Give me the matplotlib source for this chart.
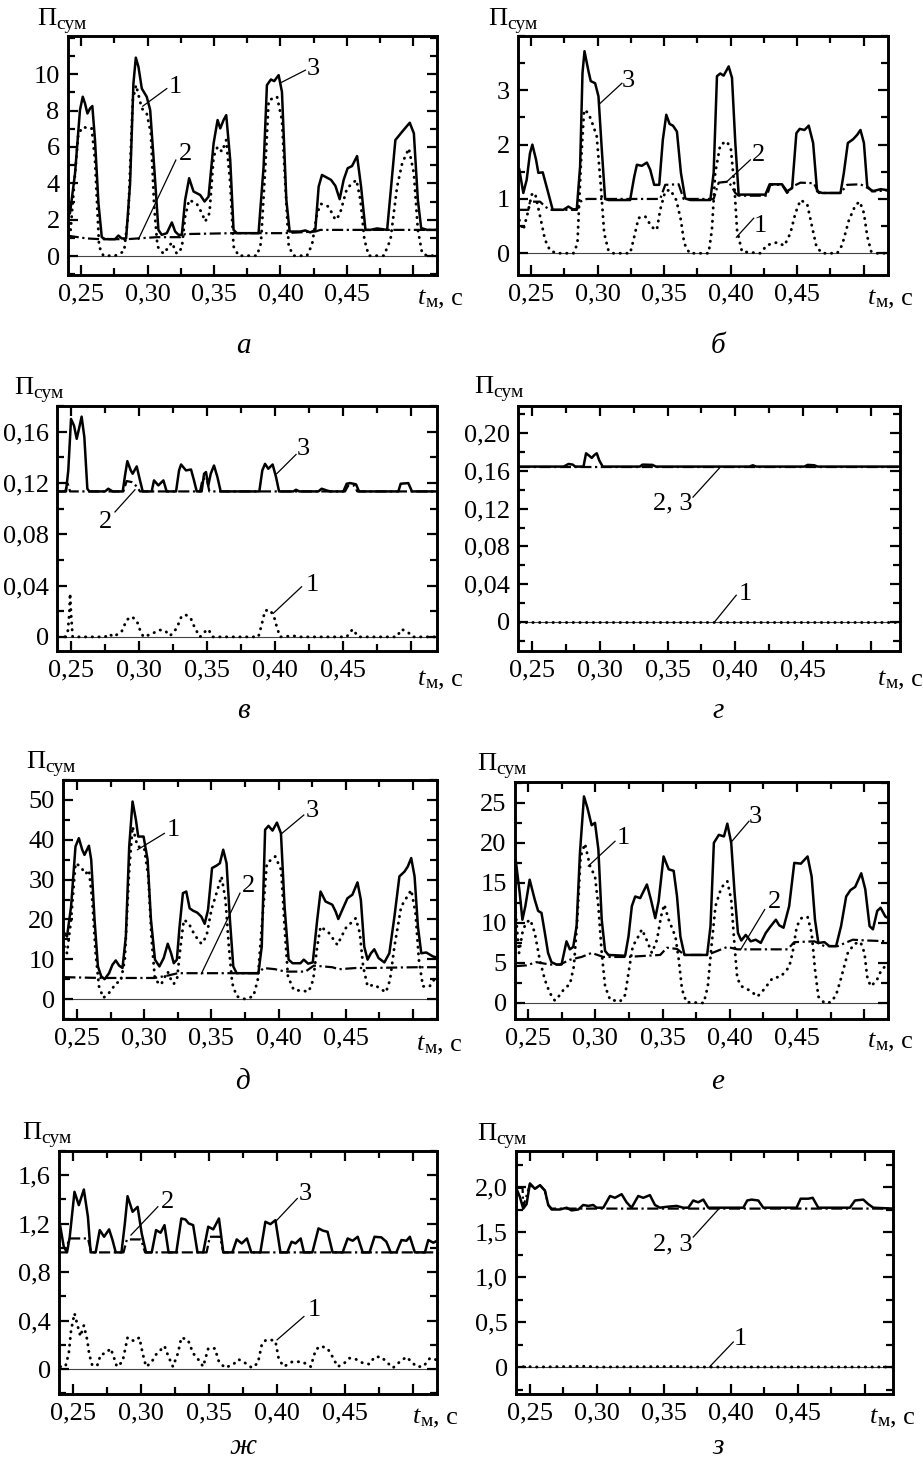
import matplotlib
matplotlib.use("Agg")
import matplotlib.pyplot as plt
from matplotlib.ticker import FixedLocator, FixedFormatter, MultipleLocator

plt.rcParams['font.family'] = ['Liberation Serif', 'DejaVu Serif']

W, H = 923, 1466

# ---------------------------------------------------------------- data
# Each curve is a list of (t_m, P_sum) points.
# 1 - dotted, 2 - dash-dot, 3 - solid (total)

# panel а
A1 = [(0.2400, 2.18), (0.2422, 1.44), (0.2447, 3.82), (0.2480, 6.75), (0.2518, 7.11), (0.2548, 7.02),
      (0.2580, 7.02), (0.2605, 5.28), (0.2636, 0.53), (0.2668, 0.02), (0.2756, 0.02), (0.2824, 0.26),
      (0.2856, 2.36), (0.2889, 8.57), (0.2914, 9.40), (0.2957, 8.12), (0.2994, 7.84), (0.3025, 6.75),
      (0.3050, 2.72), (0.3075, 0.53), (0.3120, 0.13), (0.3153, 0.44), (0.3183, 0.75), (0.3220, 0.13),
      (0.3258, 0.44), (0.3283, 2.18), (0.3313, 3.09), (0.3371, 2.87), (0.3409, 2.36), (0.3434, 1.90),
      (0.3466, 2.36), (0.3497, 5.47), (0.3527, 6.01), (0.3560, 5.74), (0.3592, 6.38), (0.3622, 4.00),
      (0.3647, 0.53), (0.3685, 0.02), (0.3823, 0.02), (0.3853, 0.71), (0.3886, 4.92), (0.3911, 8.57),
      (0.3974, 8.76), (0.4011, 7.48), (0.4037, 3.82), (0.4062, 0.53), (0.4099, 0.02), (0.4199, 0.02),
      (0.4237, 0.62), (0.4275, 2.36), (0.4305, 2.87), (0.4362, 2.72), (0.4413, 1.99), (0.4445, 2.27),
      (0.4500, 3.73), (0.4571, 4.19), (0.4601, 3.09), (0.4631, 0.90), (0.4664, 0.02), (0.4777, 0.02),
      (0.4827, 0.90), (0.4877, 3.82), (0.4915, 5.10), (0.4965, 5.92), (0.5003, 4.55), (0.5033, 1.44),
      (0.5065, 0.16), (0.5103, 0.02), (0.5178, 0.02)]
A2 = [(0.2400, 1.12), (0.2543, 0.97), (0.2643, 0.93), (0.2844, 0.93), (0.3070, 1.04), (0.3245, 1.04),
      (0.3283, 1.21), (0.3647, 1.26), (0.4024, 1.26), (0.4262, 1.35), (0.4300, 1.44), (0.5178, 1.44)]
A3 = [(0.2400, 2.20), (0.2417, 2.36), (0.2455, 4.55), (0.2492, 8.03), (0.2513, 8.76), (0.2530, 8.39),
      (0.2548, 7.84), (0.2568, 8.12), (0.2585, 8.25), (0.2605, 6.38), (0.2631, 2.91), (0.2656, 1.04),
      (0.2681, 0.93), (0.2756, 0.93), (0.2781, 1.13), (0.2806, 0.97), (0.2839, 0.97), (0.2869, 4.00),
      (0.2894, 9.49), (0.2912, 10.91), (0.2932, 10.40), (0.2957, 9.21), (0.2994, 8.76), (0.3020, 8.03),
      (0.3050, 4.92), (0.3082, 1.44), (0.3107, 1.17), (0.3145, 1.26), (0.3183, 1.85), (0.3208, 1.35),
      (0.3233, 1.17), (0.3258, 1.17), (0.3283, 3.09), (0.3313, 4.28), (0.3346, 3.55), (0.3396, 3.36),
      (0.3429, 3.00), (0.3459, 3.27), (0.3497, 6.20), (0.3527, 7.48), (0.3547, 7.02), (0.3572, 7.48),
      (0.3592, 7.75), (0.3622, 5.28), (0.3647, 1.44), (0.3672, 1.26), (0.3835, 1.26), (0.3873, 4.92),
      (0.3898, 9.40), (0.3928, 9.71), (0.3953, 9.62), (0.3986, 9.95), (0.4011, 9.03), (0.4044, 3.09),
      (0.4069, 1.35), (0.4149, 1.35), (0.4187, 1.41), (0.4224, 1.30), (0.4262, 1.44), (0.4287, 3.82),
      (0.4312, 4.46), (0.4345, 4.33), (0.4380, 4.19), (0.4413, 3.86), (0.4445, 3.13), (0.4475, 4.19),
      (0.4505, 4.83), (0.4538, 4.95), (0.4576, 5.50), (0.4606, 3.82), (0.4639, 1.44), (0.4676, 1.44),
      (0.4726, 1.52), (0.4802, 1.44), (0.4832, 3.82), (0.4864, 6.38), (0.4915, 6.84), (0.4972, 7.33),
      (0.5003, 6.75), (0.5033, 3.09), (0.5058, 1.54), (0.5103, 1.44), (0.5178, 1.44)]

# panel б
B1 = [(0.2412, 0.61), (0.2442, 0.43), (0.2475, 0.74), (0.2505, 1.08), (0.2530, 1.11), (0.2568, 0.68),
      (0.2605, 0.25), (0.2643, 0.05), (0.2693, 0.00), (0.2819, 0.00), (0.2849, 0.18), (0.2874, 1.60),
      (0.2899, 2.64), (0.2932, 2.58), (0.2969, 2.34), (0.2994, 2.15), (0.3025, 1.23), (0.3050, 0.37),
      (0.3082, 0.05), (0.3120, 0.00), (0.3245, 0.00), (0.3271, 0.25), (0.3308, 0.65), (0.3358, 0.68),
      (0.3409, 0.48), (0.3446, 0.43), (0.3471, 0.80), (0.3509, 1.14), (0.3547, 1.17), (0.3592, 0.98),
      (0.3627, 0.61), (0.3652, 0.18), (0.3692, 0.00), (0.3835, 0.00), (0.3860, 0.43), (0.3885, 1.48),
      (0.3923, 2.00), (0.3973, 2.06), (0.4003, 1.91), (0.4029, 1.23), (0.4049, 0.43), (0.4086, 0.03),
      (0.4224, 0.00), (0.4274, 0.15), (0.4350, 0.20), (0.4405, 0.14), (0.4450, 0.37), (0.4488, 0.74),
      (0.4526, 0.98), (0.4576, 0.91), (0.4613, 0.49), (0.4646, 0.12), (0.4689, 0.00), (0.4802, 0.00),
      (0.4839, 0.15), (0.4890, 0.61), (0.4940, 0.89), (0.4972, 0.95), (0.5003, 0.74), (0.5028, 0.31),
      (0.5058, 0.03), (0.5103, 0.00), (0.5186, 0.00)]
B2 = [(0.2412, 0.80), (0.2480, 0.80), (0.2492, 0.95), (0.2568, 0.95), (0.2605, 0.86), (0.2643, 0.80),
      (0.2844, 0.80), (0.2869, 0.95), (0.2919, 1.00), (0.3471, 1.00), (0.3509, 1.26), (0.3610, 1.27),
      (0.3647, 1.00), (0.3873, 1.00), (0.3911, 1.30), (0.3986, 1.32), (0.4036, 1.11), (0.4061, 1.06),
      (0.4274, 1.06), (0.4299, 1.26), (0.4387, 1.26), (0.4425, 1.11), (0.4475, 1.24), (0.4526, 1.30),
      (0.4626, 1.29), (0.4664, 1.11), (0.4827, 1.11), (0.4877, 1.26), (0.4977, 1.27), (0.5033, 1.20),
      (0.5078, 1.14), (0.5186, 1.16)]
B3 = [(0.2412, 1.54), (0.2442, 1.11), (0.2467, 1.35), (0.2492, 1.84), (0.2510, 2.00), (0.2538, 1.72),
      (0.2555, 1.48), (0.2588, 1.49), (0.2623, 1.17), (0.2663, 0.80), (0.2743, 0.80), (0.2781, 0.86),
      (0.2814, 0.81), (0.2844, 0.81), (0.2869, 1.60), (0.2887, 3.32), (0.2902, 3.72), (0.2932, 3.35),
      (0.2949, 3.17), (0.2982, 3.13), (0.3007, 2.89), (0.3032, 1.91), (0.3057, 1.00), (0.3082, 0.98),
      (0.3245, 0.98), (0.3276, 1.41), (0.3296, 1.63), (0.3333, 1.61), (0.3371, 1.67), (0.3396, 1.54),
      (0.3426, 1.26), (0.3464, 1.26), (0.3491, 2.09), (0.3517, 2.55), (0.3542, 2.38), (0.3567, 2.35),
      (0.3597, 2.24), (0.3627, 1.48), (0.3659, 1.01), (0.3697, 0.98), (0.3848, 0.98), (0.3873, 1.48),
      (0.3898, 3.26), (0.3923, 3.31), (0.3948, 3.27), (0.3986, 3.44), (0.4011, 3.23), (0.4036, 2.03),
      (0.4061, 1.08), (0.4262, 1.08), (0.4294, 1.27), (0.4387, 1.27), (0.4425, 1.14), (0.4463, 1.20),
      (0.4495, 2.21), (0.4520, 2.29), (0.4556, 2.27), (0.4588, 2.35), (0.4621, 2.03), (0.4651, 1.14),
      (0.4689, 1.11), (0.4827, 1.11), (0.4852, 1.48), (0.4882, 2.03), (0.4922, 2.10), (0.4952, 2.18),
      (0.4977, 2.27), (0.5003, 2.03), (0.5028, 1.23), (0.5065, 1.14), (0.5128, 1.18), (0.5186, 1.16)]

# panel в
V1 = [(0.2456, 0.0), (0.2476, 0.0041), (0.2488, 0.0184), (0.2493, 0.0339), (0.2500, 0.0184),
      (0.2512, 0.0), (0.2750, 0.0), (0.2782, 0.0023), (0.2811, 0.0), (0.2872, 0.0041), (0.2909, 0.0132),
      (0.2946, 0.0158), (0.2983, 0.0127), (0.3007, 0.0054), (0.3032, 0.0), (0.3093, 0.0023),
      (0.3149, 0.0054), (0.3191, 0.0049), (0.3228, 0.0008), (0.3277, 0.0067), (0.3313, 0.0163),
      (0.3345, 0.0171), (0.3380, 0.0145), (0.3411, 0.0067), (0.3448, 0.0), (0.3485, 0.0041),
      (0.3509, 0.0060), (0.3541, 0.0), (0.3877, 0.0), (0.3901, 0.0093), (0.3926, 0.0205),
      (0.3963, 0.0210), (0.3992, 0.0158), (0.4012, 0.0080), (0.4036, 0.0), (0.4134, 0.0008),
      (0.4183, 0.0), (0.4526, 0.0), (0.4570, 0.0060), (0.4612, 0.0), (0.4894, 0.0), (0.4930, 0.0060),
      (0.4979, 0.0034), (0.5011, 0.0), (0.5188, 0.0)]
V2 = [(0.2407, 0.1134), (0.2456, 0.1134), (0.2476, 0.1194), (0.2493, 0.1134), (0.2885, 0.1134),
      (0.2909, 0.1215), (0.2946, 0.1207), (0.2983, 0.1173), (0.3007, 0.1134), (0.3448, 0.1134),
      (0.3468, 0.1233), (0.3497, 0.1233), (0.3517, 0.1134), (0.4514, 0.1134), (0.4538, 0.1181),
      (0.4580, 0.1181), (0.4604, 0.1134), (0.5188, 0.1134)]
V3 = [(0.2407, 0.1134), (0.2463, 0.1134), (0.2480, 0.1298), (0.2500, 0.1699), (0.2522, 0.1647),
      (0.2542, 0.1544), (0.2561, 0.1634), (0.2578, 0.1717), (0.2598, 0.1557), (0.2620, 0.1155),
      (0.2635, 0.1134), (0.2750, 0.1134), (0.2774, 0.1155), (0.2806, 0.1134), (0.2880, 0.1134),
      (0.2897, 0.1259), (0.2914, 0.1370), (0.2939, 0.1298), (0.2953, 0.1272), (0.2983, 0.1329),
      (0.3007, 0.1220), (0.3027, 0.1134), (0.3093, 0.1134), (0.3110, 0.1220), (0.3142, 0.1181),
      (0.3179, 0.1220), (0.3203, 0.1134), (0.3272, 0.1134), (0.3294, 0.1298), (0.3309, 0.1344),
      (0.3345, 0.1298), (0.3382, 0.1305), (0.3404, 0.1220), (0.3424, 0.1134), (0.3460, 0.1134),
      (0.3478, 0.1272), (0.3492, 0.1285), (0.3509, 0.1181), (0.3527, 0.1272), (0.3551, 0.1336),
      (0.3576, 0.1246), (0.3600, 0.1134), (0.3884, 0.1134), (0.3906, 0.1298), (0.3926, 0.1349),
      (0.3950, 0.1311), (0.3982, 0.1344), (0.4007, 0.1246), (0.4029, 0.1134), (0.4134, 0.1134),
      (0.4154, 0.1147), (0.4178, 0.1134), (0.4318, 0.1134), (0.4342, 0.1155), (0.4379, 0.1142),
      (0.4404, 0.1134), (0.4502, 0.1134), (0.4526, 0.1194), (0.4551, 0.1199), (0.4575, 0.1194),
      (0.4595, 0.1189), (0.4617, 0.1134), (0.4906, 0.1134), (0.4923, 0.1194), (0.4979, 0.1199),
      (0.5006, 0.1134), (0.5188, 0.1134)]

# panel г
G1 = [(0.2402, 0.0), (0.5207, 0.0)]
G2 = [(0.2402, 0.1643), (0.5207, 0.1643)]
G3 = [(0.2402, 0.1647), (0.2733, 0.1647), (0.2770, 0.1675), (0.2801, 0.1668), (0.2819, 0.1647),
      (0.2880, 0.1647), (0.2899, 0.1788), (0.2921, 0.1764), (0.2941, 0.1739), (0.2961, 0.1771),
      (0.2978, 0.1788), (0.2997, 0.1711), (0.3022, 0.1647), (0.3296, 0.1647), (0.3316, 0.1668),
      (0.3389, 0.1665), (0.3414, 0.1647), (0.4105, 0.1647), (0.4129, 0.1661), (0.4154, 0.1647),
      (0.4509, 0.1647), (0.4534, 0.1665), (0.4583, 0.1661), (0.4607, 0.1647), (0.5207, 0.1647)]

# panel д
D1 = [(0.2405, 13.2), (0.2425, 11.5), (0.2455, 19.9), (0.2488, 34.1), (0.2525, 33.3), (0.2563, 31.4),
      (0.2588, 32.4), (0.2613, 24.9), (0.2638, 11.5), (0.2663, 3.2), (0.2695, 0.3), (0.2725, 1.1),
      (0.2755, 2.2), (0.2788, 4.0), (0.2825, 4.4), (0.2855, 9.9), (0.2888, 32.4), (0.2913, 43.3),
      (0.2950, 38.3), (0.3000, 37.9), (0.3030, 30.8), (0.3055, 14.9), (0.3080, 4.8), (0.3125, 3.6),
      (0.3155, 5.7), (0.3175, 6.9), (0.3200, 4.8), (0.3220, 3.8), (0.3245, 5.3), (0.3270, 13.2),
      (0.3295, 19.9), (0.3330, 19.1), (0.3375, 16.1), (0.3425, 13.9), (0.3463, 15.7), (0.3500, 22.4),
      (0.3538, 26.6), (0.3575, 30.8), (0.3605, 24.9), (0.3630, 13.2), (0.3655, 4.0), (0.3688, 0.7),
      (0.3750, 0.0), (0.3813, 0.7), (0.3845, 4.8), (0.3875, 18.2), (0.3913, 34.1), (0.3975, 35.8),
      (0.4020, 32.4), (0.4045, 18.2), (0.4070, 5.7), (0.4113, 2.3), (0.4225, 1.9), (0.4258, 4.8),
      (0.4288, 13.2), (0.4313, 18.2), (0.4375, 16.6), (0.4438, 13.6), (0.4500, 17.8), (0.4575, 20.3),
      (0.4605, 16.6), (0.4630, 8.2), (0.4663, 3.2), (0.4713, 3.6), (0.4763, 2.5), (0.4800, 1.7),
      (0.4830, 4.8), (0.4863, 13.2), (0.4913, 23.2), (0.4988, 27.4), (0.5020, 21.6), (0.5045, 9.9),
      (0.5075, 3.2), (0.5125, 3.2), (0.5175, 5.7), (0.5195, 6.1)]
D2 = [(0.2405, 5.5), (0.2675, 5.3), (0.3075, 5.3), (0.3175, 5.9), (0.3250, 6.5), (0.3850, 6.5),
      (0.3888, 7.8), (0.3975, 7.5), (0.4050, 6.9), (0.4200, 6.9), (0.4263, 8.4), (0.4400, 8.0),
      (0.4450, 7.5), (0.4575, 7.8), (0.4675, 7.8), (0.5025, 8.0), (0.5195, 8.0)]
D3 = [(0.2405, 16.6), (0.2425, 15.7), (0.2455, 23.2), (0.2488, 38.3), (0.2513, 40.4), (0.2538, 37.5),
      (0.2555, 36.2), (0.2588, 38.5), (0.2605, 35.0), (0.2630, 19.9), (0.2655, 8.2), (0.2680, 5.7),
      (0.2705, 5.0), (0.2738, 6.5), (0.2763, 8.6), (0.2788, 9.7), (0.2813, 8.4), (0.2838, 7.8),
      (0.2863, 15.7), (0.2888, 38.3), (0.2913, 49.6), (0.2938, 45.0), (0.2955, 40.8), (0.2995, 40.8),
      (0.3025, 35.0), (0.3050, 19.9), (0.3080, 9.9), (0.3113, 8.2), (0.3145, 10.3), (0.3175, 13.9),
      (0.3200, 11.5), (0.3220, 9.0), (0.3243, 9.9), (0.3263, 18.2), (0.3288, 26.6), (0.3313, 27.0),
      (0.3338, 22.8), (0.3363, 22.2), (0.3395, 21.7), (0.3425, 20.7), (0.3450, 18.9), (0.3475, 22.4),
      (0.3505, 32.9), (0.3538, 33.5), (0.3563, 34.1), (0.3588, 37.5), (0.3613, 34.1), (0.3638, 19.9),
      (0.3663, 8.2), (0.3688, 6.5), (0.3850, 6.5), (0.3875, 13.2), (0.3900, 42.5), (0.3925, 43.5),
      (0.3955, 42.3), (0.3988, 44.3), (0.4018, 41.6), (0.4045, 23.2), (0.4075, 9.9), (0.4105, 9.0),
      (0.4163, 9.0), (0.4188, 9.9), (0.4220, 8.9), (0.4255, 9.2), (0.4288, 19.9), (0.4313, 27.0),
      (0.4350, 24.5), (0.4400, 23.7), (0.4425, 22.0), (0.4445, 20.1), (0.4480, 22.8), (0.4513, 25.3),
      (0.4550, 26.2), (0.4588, 29.3), (0.4613, 24.9), (0.4638, 13.2), (0.4663, 9.9), (0.4688, 11.5),
      (0.4713, 12.5), (0.4745, 10.3), (0.4788, 9.2), (0.4825, 11.5), (0.4863, 20.7), (0.4900, 30.8),
      (0.4938, 32.0), (0.4963, 33.3), (0.4988, 35.4), (0.5013, 30.8), (0.5038, 18.2), (0.5063, 11.5),
      (0.5100, 11.7), (0.5150, 10.7), (0.5195, 10.3)]

# panel е
E1 = [(0.2408, 11.25), (0.2433, 6.25), (0.2458, 8.75), (0.2483, 10.0), (0.2517, 10.4), (0.2550, 8.75),
      (0.2587, 5.4), (0.2625, 2.9), (0.2662, 1.25), (0.2699, 0.3), (0.2737, 1.0), (0.2774, 1.9),
      (0.2811, 2.3), (0.2841, 4.6), (0.2866, 10.4), (0.2891, 18.3), (0.2923, 19.9), (0.2961, 17.1),
      (0.2998, 15.8), (0.3023, 12.1), (0.3048, 6.25), (0.3073, 2.1), (0.3110, 0.4), (0.3185, 0.2),
      (0.3222, 1.0), (0.3247, 3.75), (0.3279, 7.1), (0.3314, 8.1), (0.3347, 9.2), (0.3384, 7.8),
      (0.3421, 6.25), (0.3459, 7.9), (0.3489, 10.8), (0.3513, 12.3), (0.3546, 10.4), (0.3596, 8.3),
      (0.3621, 5.4), (0.3645, 1.7), (0.3678, 0.1), (0.3807, 0.0), (0.3837, 2.1), (0.3862, 6.7),
      (0.3894, 12.1), (0.3937, 14.4), (0.3982, 15.2), (0.4011, 12.9), (0.4036, 7.1), (0.4056, 3.1),
      (0.4086, 2.1), (0.4156, 1.5), (0.4206, 0.8), (0.4255, 1.7), (0.4318, 3.1), (0.4380, 3.3),
      (0.4442, 4.5), (0.4467, 6.25), (0.4499, 9.6), (0.4534, 10.6), (0.4579, 10.75), (0.4609, 8.75),
      (0.4634, 4.2), (0.4659, 0.8), (0.4704, 0.0), (0.4753, 0.1), (0.4791, 1.0), (0.4828, 3.1),
      (0.4878, 6.25), (0.4928, 7.4), (0.4973, 7.6), (0.5002, 6.25), (0.5022, 3.3), (0.5047, 2.1),
      (0.5090, 2.7), (0.5127, 4.1), (0.5164, 4.7), (0.5189, 4.5)]
E2 = [(0.2408, 4.6), (0.2488, 4.7), (0.2562, 5.1), (0.2662, 4.8), (0.2737, 4.8), (0.2811, 5.4),
      (0.2898, 5.75), (0.2973, 6.25), (0.3060, 5.75), (0.3234, 5.75), (0.3483, 6.0), (0.3533, 6.9),
      (0.3608, 6.75), (0.3663, 6.0), (0.3832, 6.0), (0.3907, 6.5), (0.3982, 7.0), (0.4056, 6.7),
      (0.4430, 6.7), (0.4480, 7.6), (0.4629, 7.7), (0.4704, 7.1), (0.4803, 7.1), (0.4915, 7.9),
      (0.5027, 7.8), (0.5189, 7.7)]
E3 = [(0.2408, 17.9), (0.2438, 13.75), (0.2458, 10.4), (0.2480, 12.1), (0.2512, 15.4), (0.2550, 12.9),
      (0.2575, 11.5), (0.2600, 11.25), (0.2625, 8.75), (0.2649, 6.25), (0.2674, 5.1), (0.2712, 4.8),
      (0.2749, 4.8), (0.2786, 7.7), (0.2811, 6.7), (0.2836, 7.0), (0.2861, 9.6), (0.2886, 18.75),
      (0.2916, 25.8), (0.2941, 24.4), (0.2973, 22.2), (0.2998, 22.5), (0.3023, 19.2), (0.3048, 10.4),
      (0.3073, 6.5), (0.3098, 6.0), (0.3222, 5.9), (0.3247, 8.3), (0.3272, 12.1), (0.3297, 13.3),
      (0.3334, 13.1), (0.3384, 14.8), (0.3414, 12.9), (0.3446, 10.6), (0.3471, 12.7), (0.3508, 18.3),
      (0.3546, 16.7), (0.3583, 16.5), (0.3608, 13.3), (0.3633, 8.3), (0.3663, 6.0), (0.3832, 6.0),
      (0.3857, 9.6), (0.3882, 20.0), (0.3919, 21.0), (0.3957, 20.8), (0.3982, 22.4), (0.4011, 20.0),
      (0.4036, 13.75), (0.4061, 8.75), (0.4086, 7.8), (0.4119, 8.5), (0.4156, 7.7), (0.4193, 7.9),
      (0.4231, 7.5), (0.4268, 8.75), (0.4305, 9.6), (0.4343, 10.4), (0.4368, 9.7), (0.4400, 9.4),
      (0.4442, 12.1), (0.4480, 17.5), (0.4529, 17.4), (0.4579, 18.3), (0.4609, 15.8), (0.4634, 10.4),
      (0.4659, 7.5), (0.4704, 7.6), (0.4741, 7.1), (0.4791, 7.1), (0.4828, 9.6), (0.4866, 13.3),
      (0.4898, 14.1), (0.4933, 14.5), (0.4978, 16.2), (0.5008, 14.2), (0.5040, 9.6), (0.5065, 9.2),
      (0.5097, 11.5), (0.5122, 11.9), (0.5157, 10.8), (0.5189, 10.5)]

# panel ж
Z1 = [(0.2406, 0.02), (0.2443, 0.02), (0.2468, 0.13), (0.2485, 0.32), (0.2510, 0.46), (0.2535, 0.35),
      (0.2554, 0.27), (0.2579, 0.36), (0.2604, 0.24), (0.2619, 0.12), (0.2641, 0.03), (0.2678, 0.03),
      (0.2703, 0.12), (0.2740, 0.13), (0.2777, 0.17), (0.2802, 0.09), (0.2822, 0.02), (0.2864, 0.06),
      (0.2901, 0.26), (0.2950, 0.23), (0.2988, 0.26), (0.3012, 0.13), (0.3037, 0.02), (0.3074, 0.05),
      (0.3111, 0.12), (0.3173, 0.19), (0.3203, 0.10), (0.3235, 0.02), (0.3272, 0.13), (0.3297, 0.26),
      (0.3346, 0.24), (0.3384, 0.13), (0.3421, 0.08), (0.3458, 0.02), (0.3495, 0.17), (0.3544, 0.17),
      (0.3574, 0.06), (0.3619, 0.01), (0.3681, 0.04), (0.3718, 0.08), (0.3767, 0.05), (0.3817, 0.01),
      (0.3861, 0.05), (0.3891, 0.21), (0.3921, 0.24), (0.3960, 0.24), (0.3990, 0.23), (0.4015, 0.08),
      (0.4052, 0.02), (0.4114, 0.06), (0.4188, 0.06), (0.4250, 0.02), (0.4287, 0.16), (0.4324, 0.19),
      (0.4374, 0.17), (0.4411, 0.10), (0.4448, 0.02), (0.4490, 0.04), (0.4534, 0.09), (0.4584, 0.08),
      (0.4633, 0.05), (0.4683, 0.04), (0.4720, 0.10), (0.4770, 0.10), (0.4807, 0.06), (0.4856, 0.01),
      (0.4906, 0.06), (0.4955, 0.10), (0.4992, 0.06), (0.5029, 0.02), (0.5079, 0.02), (0.5128, 0.09),
      (0.5165, 0.08), (0.5190, 0.07)]
Z2 = [(0.2406, 0.963), (0.2450, 0.963), (0.2468, 1.078), (0.2609, 1.078), (0.2634, 0.963),
      (0.2871, 0.963), (0.2896, 1.070), (0.3000, 1.070), (0.3030, 0.963), (0.3483, 0.963),
      (0.3507, 1.092), (0.3582, 1.092), (0.3606, 0.963), (0.5190, 0.963)]
Z3 = [(0.2406, 1.175), (0.2431, 1.010), (0.2455, 0.963), (0.2475, 1.090), (0.2510, 1.463),
      (0.2542, 1.353), (0.2579, 1.482), (0.2609, 1.257), (0.2629, 0.963), (0.2666, 0.963),
      (0.2696, 1.147), (0.2728, 1.092), (0.2765, 1.153), (0.2790, 1.065), (0.2814, 0.963),
      (0.2856, 0.963), (0.2881, 1.202), (0.2901, 1.427), (0.2938, 1.298), (0.2975, 1.339),
      (0.3005, 1.120), (0.3037, 0.963), (0.3079, 0.963), (0.3111, 1.147), (0.3144, 1.125),
      (0.3173, 1.188), (0.3203, 0.963), (0.3260, 0.963), (0.3297, 1.243), (0.3327, 1.235),
      (0.3351, 1.202), (0.3384, 1.188), (0.3416, 0.963), (0.3458, 0.963), (0.3495, 1.175),
      (0.3532, 1.153), (0.3574, 1.243), (0.3606, 0.963), (0.3673, 0.963), (0.3705, 1.070),
      (0.3742, 1.037), (0.3780, 1.078), (0.3812, 0.963), (0.3879, 0.963), (0.3916, 1.216),
      (0.3953, 1.196), (0.3990, 1.229), (0.4027, 0.963), (0.4077, 0.963), (0.4109, 1.051),
      (0.4138, 1.037), (0.4176, 1.078), (0.4200, 0.963), (0.4262, 0.963), (0.4307, 1.161),
      (0.4341, 1.142), (0.4374, 1.133), (0.4411, 0.963), (0.4485, 0.963), (0.4522, 1.078),
      (0.4559, 1.059), (0.4596, 1.092), (0.4633, 0.963), (0.4683, 0.963), (0.4720, 1.092),
      (0.4770, 1.087), (0.4807, 1.051), (0.4839, 0.963), (0.4881, 0.963), (0.4918, 1.065),
      (0.4955, 1.059), (0.4980, 1.092), (0.5017, 0.963), (0.5091, 0.963), (0.5116, 1.065),
      (0.5153, 1.043), (0.5190, 1.065)]

# panel з
S1 = [(0.2400, 0.0), (0.2480, 0.005), (0.2550, 0.0), (0.2920, 0.008), (0.3000, 0.0), (0.3600, 0.005),
      (0.3700, 0.0), (0.5214, 0.0)]
S2 = [(0.2400, 1.99), (0.2445, 1.99), (0.2450, 1.78), (0.2500, 2.03), (0.2537, 1.98), (0.2575, 2.02),
      (0.2612, 1.96), (0.2637, 1.80), (0.2662, 1.76), (0.5214, 1.76)]
S3 = [(0.2400, 1.98), (0.2425, 1.89), (0.2450, 1.76), (0.2475, 1.81), (0.2500, 2.04), (0.2537, 1.98),
      (0.2575, 2.02), (0.2612, 1.96), (0.2637, 1.80), (0.2662, 1.75), (0.2724, 1.75), (0.2774, 1.77),
      (0.2811, 1.74), (0.2861, 1.75), (0.2898, 1.80), (0.2936, 1.79), (0.2973, 1.80), (0.2998, 1.77),
      (0.3048, 1.77), (0.3098, 1.90), (0.3135, 1.88), (0.3185, 1.92), (0.3222, 1.83), (0.3259, 1.77),
      (0.3309, 1.90), (0.3347, 1.88), (0.3396, 1.91), (0.3434, 1.80), (0.3471, 1.77), (0.3521, 1.78),
      (0.3596, 1.79), (0.3645, 1.77), (0.3683, 1.77), (0.3720, 1.85), (0.3757, 1.83), (0.3795, 1.86),
      (0.3832, 1.77), (0.4094, 1.77), (0.4123, 1.85), (0.4156, 1.86), (0.4206, 1.85), (0.4243, 1.77),
      (0.4492, 1.77), (0.4522, 1.87), (0.4579, 1.87), (0.4612, 1.88), (0.4654, 1.77), (0.4890, 1.77),
      (0.4928, 1.85), (0.4990, 1.86), (0.5027, 1.81), (0.5065, 1.77), (0.5214, 1.76)]

X_TICKS = [0.25, 0.30, 0.35, 0.40, 0.45, 0.50]
X_LABELS = ['0,25', '0,30', '0,35', '0,40', '0,45', '']

# ---------------------------------------------------------------- layout
# box = (left, top, right, bottom) in pixels; ylab = (x, baseline) of "Псум";
# xlab = (x, baseline) of "tм, с"; letter = (x centre, baseline)
PANELS = [
    dict(box=(68, 36, 437, 275), xlim=(0.2402, 0.5177), ylim=(-1.04, 12.1),
         yt=[0, 2, 4, 6, 8, 10], yl=['0', '2', '4', '6', '8', '10'], ymin=1,
         curves=(A1, A2, A3), letter='а', lpos=(243, 353), ylab=(37, 25), xlab=(418, 304),
         notes=[('1', 0.2964, 8.24, 0.3145, 9.21, 0.3208, 9.27),
                ('2', 0.2932, 0.93, 0.3213, 5.28, 0.3283, 5.61),
                ('3', 0.3999, 9.52, 0.4187, 10.22, 0.4250, 10.31)]),
    dict(box=(518, 36, 888, 275), xlim=(0.2402, 0.5184), ylim=(-0.4, 4.0),
         yt=[0, 1, 2, 3], yl=['0', '1', '2', '3'], ymin=0.5,
         curves=(B1, B2, B3), letter='б', lpos=(718, 353), ylab=(488, 25), xlab=(868, 304),
         notes=[('3', 0.3015, 2.75, 0.3183, 3.13, 0.3233, 3.18),
                ('2', 0.3973, 1.32, 0.4149, 1.72, 0.4207, 1.81),
                ('1', 0.4044, 0.295, 0.4174, 0.645, 0.4224, 0.50)]),
    dict(box=(57, 406, 437, 651), xlim=(0.2397, 0.5190), ylim=(-0.011, 0.18),
         yt=[0, 0.04, 0.08, 0.12, 0.16], yl=['0', '0,04', '0,08', '0,12', '0,16'], ymin=0.02,
         curves=(V1, V2, V3), letter='в', lpos=(243, 718), ylab=(14, 394), xlab=(418, 685),
         notes=[('3', 0.4012, 0.1272, 0.4154, 0.1422, 0.4208, 0.1466),
                ('2', 0.2970, 0.1147, 0.2823, 0.0974, 0.2757, 0.0896),
                ('1', 0.3987, 0.0184, 0.4195, 0.0391, 0.4276, 0.0404)]),
    dict(box=(518, 406, 900, 651), xlim=(0.2397, 0.5215), ylim=(-0.031, 0.229),
         yt=[0, 0.04, 0.08, 0.12, 0.16, 0.20], yl=['0', '0,04', '0,08', '0,12', '0,16', '0,20'],
         ymin=0.02, curves=(G1, G2, G3), letter='г', lpos=(718, 718), ylab=(474, 393),
         xlab=(878, 685),
         notes=[('2, 3', 0.3884, 0.1633, 0.3688, 0.1323, 0.3536, 0.1259),
                ('1', 0.3848, 0.0, 0.4007, 0.0282, 0.4075, 0.030)]),
    dict(box=(63, 780, 437, 1019), xlim=(0.2395, 0.5180), ylim=(-5.0, 55.0),
         yt=[0, 10, 20, 30, 40, 50], yl=['0', '10', '20', '30', '40', '50'], ymin=5,
         curves=(D1, D2, D3), letter='д', lpos=(243, 1089), ylab=(26, 768), xlab=(417, 1050),
         notes=[('1', 0.2950, 37.5, 0.3150, 41.6, 0.3213, 42.5),
                ('2', 0.3425, 6.35, 0.3713, 26.6, 0.3775, 28.5),
                ('3', 0.4025, 41.6, 0.4188, 46.2, 0.4250, 47.3)]),
    dict(box=(515, 782, 888, 1019), xlim=(0.2403, 0.5177), ylim=(-2.0, 27.6),
         yt=[0, 5, 10, 15, 20, 25], yl=['0', '5', '10', '15', '20', '25'], ymin=2.5,
         curves=(E1, E2, E3), letter='е', lpos=(718, 1089), ylab=(477, 770), xlab=(868, 1047),
         notes=[('1', 0.2948, 17.1, 0.3147, 20.2, 0.3210, 20.6),
                ('3', 0.4006, 20.0, 0.4143, 22.7, 0.4193, 23.25),
                ('2', 0.4081, 6.67, 0.4260, 11.67, 0.4330, 12.6)]),
    dict(box=(59, 1151, 437, 1394), xlim=(0.2396, 0.5180), ylim=(-0.206, 1.8),
         yt=[0, 0.4, 0.8, 1.2, 1.6], yl=['0', '0,4', '0,8', '1,2', '1,6'], ymin=0.2,
         curves=(Z1, Z2, Z3), letter='ж', lpos=(243, 1454), ylab=(22, 1139), xlab=(413, 1423),
         notes=[('2', 0.2926, 1.106, 0.3124, 1.34, 0.3198, 1.38),
                ('3', 0.3990, 1.216, 0.4151, 1.408, 0.4213, 1.449),
                ('1', 0.4002, 0.241, 0.4200, 0.434, 0.4275, 0.488)]),
    dict(box=(516, 1151, 893, 1394), xlim=(0.2396, 0.5212), ylim=(-0.3, 2.4),
         yt=[0, 0.5, 1.0, 1.5, 2.0], yl=['0', '0,5', '1,0', '1,5', '2,0'], ymin=0.25,
         curves=(S1, S2, S3), letter='з', lpos=(718, 1454), ylab=(477, 1140), xlab=(870, 1423),
         notes=[('2, 3', 0.3919, 1.77, 0.3720, 1.444, 0.3566, 1.363),
                ('1', 0.3845, 0.007, 0.4019, 0.278, 0.4069, 0.315)]),
]

FS = 19        # tick labels, curve numbers
FS_SUB = 14    # subscripts
fig = plt.figure(figsize=(W / 100, H / 100), dpi=100)
fig.patch.set_facecolor('white')
renderer = fig.canvas.get_renderer()


def fx(px):
    return px / W


def fy(py):
    return 1 - py / H


def run_text(x_px, base_px, parts):
    """Lay out a row of text pieces (text, size, style, drop_px) from left to right."""
    x = x_px
    for s, size, style, drop in parts:
        t = fig.text(fx(x), fy(base_px + drop), s, fontsize=size, style=style,
                     ha='left', va='baseline')
        x += t.get_window_extent(renderer).width


for p in PANELS:
    l, t, r, b = p['box']
    ax = fig.add_axes([fx(l), fy(b), (r - l) / W, (b - t) / H])
    ax.set_xlim(*p['xlim'])
    ax.set_ylim(*p['ylim'])

    c1, c2, c3 = p['curves']
    ax.axhline(0, color='#444444', lw=0.8, zorder=1)
    ax.plot([q[0] for q in c1], [q[1] for q in c1], color='black', lw=2.1,
            linestyle=(0, (0.1, 2.2)), dash_capstyle='round', zorder=2)
    ax.plot([q[0] for q in c2], [q[1] for q in c2], color='black', lw=1.6,
            linestyle=(0, (5, 1.6, 1, 1.6)), zorder=3)
    ax.plot([q[0] for q in c3], [q[1] for q in c3], color='black', lw=1.8,
            solid_joinstyle='round', zorder=4)

    for lab, x0, y0, x1, y1, xt, yt in p['notes']:
        ax.plot([x0, x1], [y0, y1], color='black', lw=0.9, zorder=5)
        ax.text(xt, yt, lab, fontsize=FS, ha='center', va='center', zorder=6)

    ax.xaxis.set_major_locator(FixedLocator(X_TICKS))
    ax.xaxis.set_major_formatter(FixedFormatter(X_LABELS))
    ax.xaxis.set_minor_locator(MultipleLocator(0.025))
    ax.yaxis.set_major_locator(FixedLocator(p['yt']))
    ax.yaxis.set_major_formatter(FixedFormatter(p['yl']))
    ax.yaxis.set_minor_locator(MultipleLocator(p['ymin']))
    ax.tick_params(which='both', direction='in', top=True, right=True, width=1.6,
                   labelsize=FS, colors='black')
    ax.tick_params(which='major', length=7)
    ax.tick_params(which='minor', length=5)
    ax.tick_params(axis='x', pad=6)
    ax.tick_params(axis='y', pad=6)
    for sp in ax.spines.values():
        sp.set_linewidth(2.1)

    # axis captions and panel letter
    yx, yb = p['ylab']
    run_text(yx, yb, [('П', FS, 'normal', 0), ('сум', FS_SUB, 'normal', 4)])
    xx, xb = p['xlab']
    run_text(xx, xb, [('t', FS, 'italic', 0), ('м', FS_SUB, 'normal', 3), (', с', FS, 'normal', 0)])
    lx, lb = p['lpos']
    fig.text(fx(lx), fy(lb), p['letter'], fontsize=21, style='italic', ha='center', va='baseline')

fig.savefig('out.png', dpi=100, facecolor='white')
